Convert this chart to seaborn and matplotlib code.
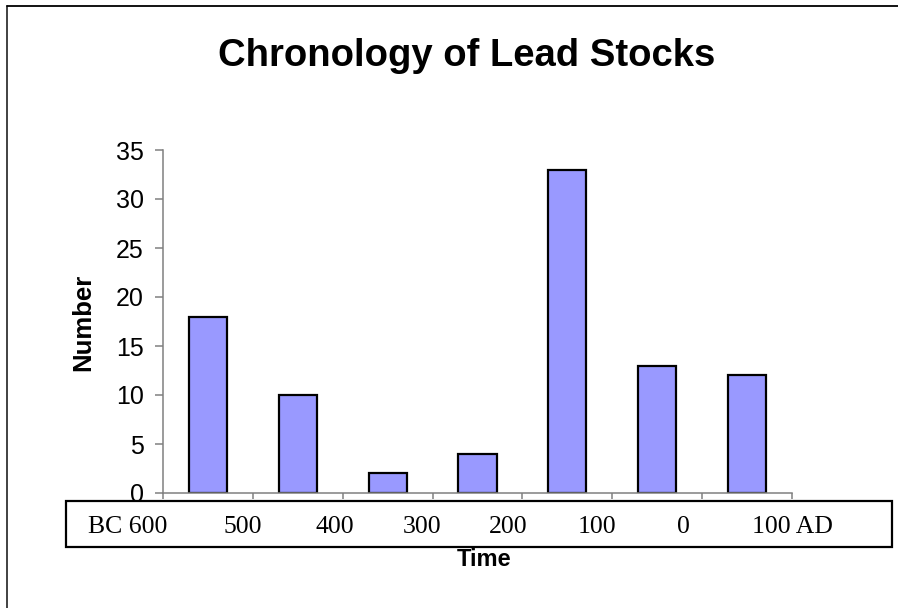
import matplotlib
matplotlib.use("Agg")
import matplotlib.pyplot as plt
import matplotlib.transforms as mtransforms
from matplotlib.patches import Rectangle
from matplotlib.lines import Line2D
import seaborn as sns
import pandas as pd

# ---- data ----
periods = ["600-500 BC", "500-400 BC", "400-300 BC", "300-200 BC",
           "200-100 BC", "100 BC-0", "0-100 AD"]
counts = [18, 10, 2, 4, 33, 13, 12]
time_labels = ["BC 600", "500", "400", "300", "200", "100", "0", "100 AD"]
# label positions relative to the category boundaries (in category units)
label_offsets = [-0.39, -0.11, -0.086, -0.118, -0.161, -0.17, -0.213, 0.0]

df = pd.DataFrame({"period": periods, "count": counts})

sns.set_style("white")
plt.rcParams["font.family"] = ["Liberation Sans", "DejaVu Sans"]
plt.rcParams["text.color"] = "black"
plt.rcParams["axes.labelcolor"] = "black"
plt.rcParams["xtick.color"] = "black"
plt.rcParams["ytick.color"] = "black"

W, H = 898, 608
fig = plt.figure(figsize=(W / 100, H / 100), dpi=100)

def fx(px):
    return px / W

def fy(py):
    return 1 - py / H

ax = fig.add_axes([fx(163), fy(493), fx(792) - fx(163), fy(150) - fy(493)])
sns.barplot(data=df, x="period", y="count", color="#9999FF", saturation=1,
            edgecolor="black", linewidth=1.6, width=0.423, ax=ax)

ax.set_xlim(-0.5, len(periods) - 0.5)
ax.set_ylim(0, 35)
ax.set_yticks(range(0, 36, 5))
bounds = [i - 0.5 for i in range(len(periods) + 1)]
ax.set_xticks(bounds)
ax.set_xticklabels([""] * len(bounds))
ax.set_xlabel("")
ax.set_ylabel("")
for s in ["top", "right"]:
    ax.spines[s].set_visible(False)
for s in ["left", "bottom"]:
    ax.spines[s].set_color("#808080")
    ax.spines[s].set_linewidth(1.1)
ax.tick_params(axis="y", direction="out", length=6, width=1.1, color="#808080",
               labelcolor="black", pad=8, labelsize=18, left=True)
ax.tick_params(axis="x", direction="out", length=4, width=1.1, color="#808080",
               bottom=True)
for t in ax.get_yticklabels():
    t.set_fontfamily(["Liberation Sans", "DejaVu Sans"])

# Label box under the axis (white-filled, drawn over the axes)
fig.patches.append(Rectangle((fx(66), fy(547)), fx(892) - fx(66), fy(501) - fy(547),
                             transform=fig.transFigure, fill=True, facecolor="white",
                             edgecolor="black", linewidth=1.6, zorder=2))
trans = mtransforms.blended_transform_factory(ax.transData, fig.transFigure)
for b, lab, off in zip(bounds, time_labels, label_offsets):
    fig.text(b + off, fy(527), lab, transform=trans, ha="center", va="center",
             fontsize=18.5, color="black", zorder=3,
             family=["Liberation Serif", "DejaVu Serif"])

# Titles
fig.text(fx(467), fy(56), "Chronology of Lead Stocks", ha="center", va="center",
         fontsize=27.5, fontweight="bold", color="black")
fig.text(fx(83), fy(322), "Number", ha="center", va="center", rotation=90,
         fontsize=18.5, fontweight="bold", color="black")
fig.text(fx(484), fy(559), "Time", ha="center", va="center",
         fontsize=17, fontweight="bold", color="black")

# outer frame (left and top visible)
fig.lines.append(Line2D([fx(7), fx(7)], [0, fy(6)], transform=fig.transFigure,
                        color="#333333", linewidth=1.3))
fig.lines.append(Line2D([fx(7), 1], [fy(6), fy(6)], transform=fig.transFigure,
                        color="black", linewidth=1.3))

fig.savefig("out.png", dpi=100)
